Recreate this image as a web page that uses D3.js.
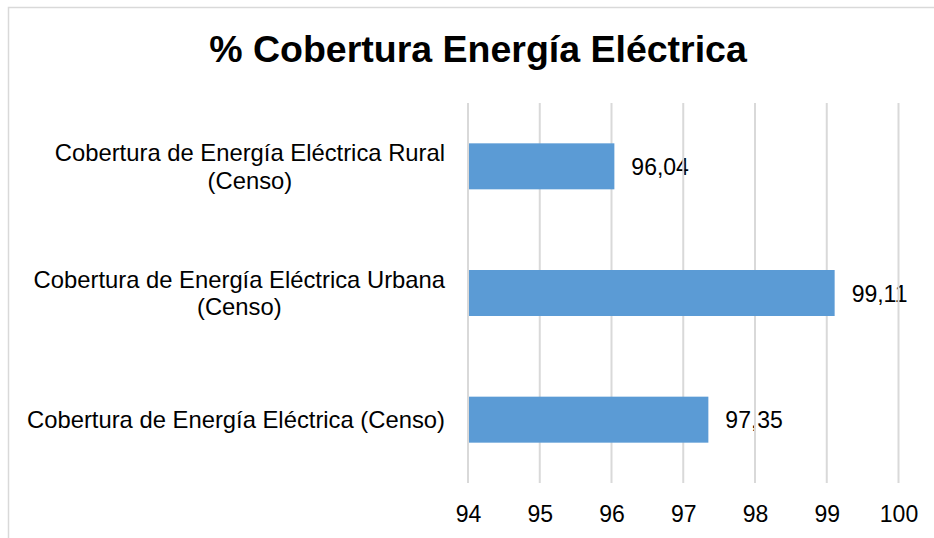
<!DOCTYPE html>
<html>
<head>
<meta charset="utf-8">
<script src="https://cdn.jsdelivr.net/npm/d3@7"></script>
<style>
  html, body { margin: 0; padding: 0; background: #fff; }
  svg { display: block; }
  text { font-family: "Liberation Sans", Arial, sans-serif; fill: #000; }
</style>
</head>
<body>
<svg id="chart" width="934" height="538"></svg>
<script>
const title = "% Cobertura Energía Eléctrica";
const categories = [
  ["Cobertura de Energía Eléctrica Rural", "(Censo)"],
  ["Cobertura de Energía Eléctrica Urbana", "(Censo)"],
  ["Cobertura de Energía Eléctrica (Censo)"]
];
const values = [96.04, 99.11, 97.35];
const valueLabels = ["96,04", "99,11", "97,35"];
const tickValues = [94, 95, 96, 97, 98, 99, 100];

const svg = d3.select("#chart");
const W = 934, H = 538;

// chart border
svg.append("rect")
  .attr("x", 8.5).attr("y", 7.5)
  .attr("width", W + 10).attr("height", H + 10)
  .attr("fill", "#fff").attr("stroke", "#d9d9d9").attr("stroke-width", 1.5);

const plot = { left: 468, right: 898.5, top: 103, bottom: 483 };

const x = d3.scaleLinear().domain([94, 100]).range([plot.left, plot.right]);
const y = d3.scaleBand().domain(d3.range(categories.length))
  .range([plot.top, plot.bottom]).paddingInner(0).paddingOuter(0);
const barH = 46;

// title
svg.append("text")
  .attr("x", 478).attr("y", 62)
  .attr("text-anchor", "middle")
  .style("font-size", "37.5px").style("font-weight", "bold")
  .text(title);

// value labels (drawn beneath gridlines, as in reference)
svg.append("g").selectAll("text").data(values).join("text")
  .attr("x", d => x(d) + 17)
  .attr("y", (d, i) => y(i) + y.bandwidth() / 2 + 8.5)
  .style("font-size", "23px")
  .text((d, i) => valueLabels[i]);

// gridlines
svg.append("g").selectAll("line").data(tickValues).join("line")
  .attr("x1", d => x(d)).attr("x2", d => x(d))
  .attr("y1", plot.top).attr("y2", plot.bottom)
  .attr("stroke", "#d9d9d9").attr("stroke-width", 2);

// bars
svg.append("g").selectAll("rect").data(values).join("rect")
  .attr("x", x(94) + 1)
  .attr("y", (d, i) => y(i) + y.bandwidth() / 2 - barH / 2)
  .attr("width", d => x(d) - x(94) - 1)
  .attr("height", barH)
  .attr("fill", "#5b9bd5");

// x axis tick labels
const xAxis = d3.axisBottom(x).tickValues(tickValues).tickSize(0).tickPadding(0)
  .tickFormat(d3.format("d"));
const gx = svg.append("g").attr("transform", `translate(0, ${plot.bottom})`).call(xAxis);
gx.select(".domain").remove();
gx.selectAll("text")
  .attr("dy", null).attr("y", 38.5)
  .style("font-size", "23px")
  .style("font-family", "'Liberation Sans', Arial, sans-serif")
  .attr("fill", "#000");

// category labels: block right-aligned at 445, lines centered within block
const labelRight = 445;
const lineH = 27.5;
const catG = svg.append("g");
categories.forEach((lines, i) => {
  const c = y(i) + y.bandwidth() / 2;
  const g = catG.append("g");
  const texts = lines.map((ln, j) => g.append("text")
    .style("font-size", "23.8px")
    .attr("text-anchor", "middle")
    .attr("y", c + (j - (lines.length - 1) / 2) * lineH + 8.5)
    .text(ln));
  const maxW = d3.max(texts, t => t.node().getComputedTextLength());
  texts.forEach(t => t.attr("x", labelRight - maxW / 2));
});
</script>
</body>
</html>
